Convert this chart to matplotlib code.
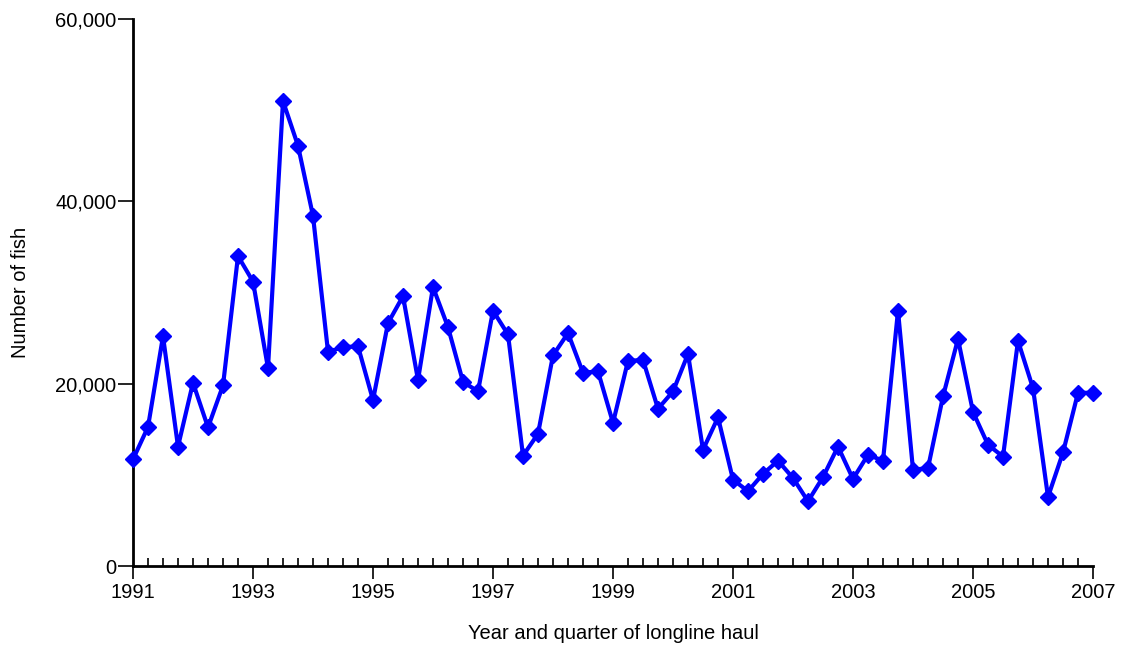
import numpy as np
import matplotlib
matplotlib.use("Agg")
import matplotlib.pyplot as plt
from matplotlib.ticker import MultipleLocator, FuncFormatter

# quarterly catch, 1991 Q1 .. 2007 Q1
first_year = 1991
fish = [11700, 15250, 25200, 13100, 20100, 15200, 19800, 34000, 31200, 21700,
        51000, 46100, 38400, 23500, 24000, 24100, 18200, 26650, 29600, 20400,
        30600, 26200, 20200, 19150, 28000, 25400, 12100, 14500, 23100, 25550,
        21200, 21350, 15700, 22500, 22600, 17250, 19150, 23250, 12750, 16300,
        9470, 8200, 10100, 11550, 9650, 7100, 9750, 13100, 9550, 12200,
        11550, 28000, 10550, 10750, 18600, 24900, 16900, 13300, 12000, 24700,
        19500, 7570, 12450, 19000, 19000]
year_ticks = [1991, 1993, 1995, 1997, 1999, 2001, 2003, 2005, 2007]
y_ticks = [0, 20000, 40000, 60000]

quarters = first_year + np.arange(len(fish)) / 4.0

plt.rcParams['font.family'] = ['Liberation Sans', 'DejaVu Sans']

fig = plt.figure(figsize=(11.21, 6.48), dpi=100)
ax = fig.add_axes([133/1121, 82/648, 960/1121, 547/648])

ax.plot(quarters, fish, color='#0000ff', lw=3, marker='D', ms=8,
        clip_on=False, zorder=3)

ax.set_xlim(1991, 2007)
ax.set_ylim(0, 60000)
ax.set_xticks(year_ticks)
ax.xaxis.set_minor_locator(MultipleLocator(0.25))
ax.set_yticks(y_ticks)
ax.yaxis.set_major_formatter(FuncFormatter(lambda v, p: f"{int(v):,}"))

for s in ['top', 'right']:
    ax.spines[s].set_visible(False)
for s in ['left', 'bottom']:
    ax.spines[s].set_linewidth(2)

ax.tick_params(axis='x', which='major', direction='out', length=9, width=1.2,
               labelsize=14.5, pad=3)
ax.tick_params(axis='x', which='minor', direction='in', length=6, width=1.2)
ax.tick_params(axis='y', which='major', direction='out', length=11, width=1.2,
               labelsize=14.5, pad=1)

ax.set_xlabel('Year and quarter of longline haul', fontsize=14.5, labelpad=16)
ax.set_ylabel('Number of fish', fontsize=14.5, labelpad=18)

fig.savefig('out.png', dpi=100)
